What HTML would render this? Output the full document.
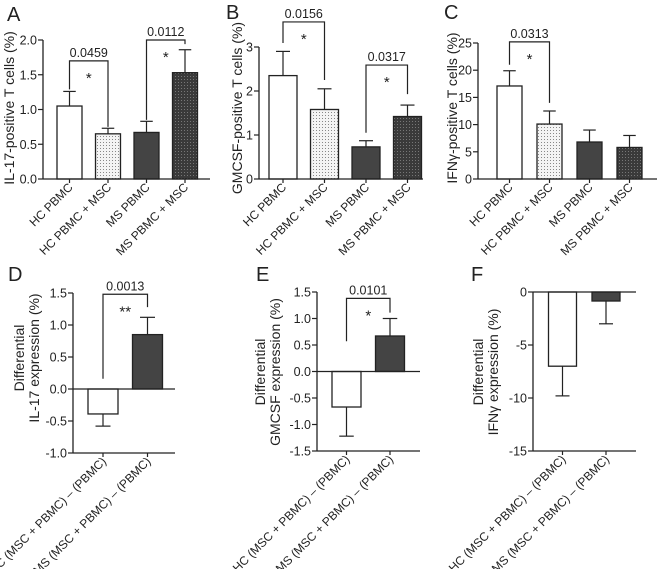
<!DOCTYPE html>
<html><head><meta charset="utf-8">
<style>
html,body{margin:0;padding:0;background:#fff;}
svg{display:block;font-family:"Liberation Sans",sans-serif;}
</style></head>
<body>
<svg id="fig" width="657" height="569" viewBox="0 0 657 569">
<defs>
<pattern id="dotLight" width="3" height="3" patternUnits="userSpaceOnUse">
<rect width="3" height="3" fill="#f4f4f4"/><rect x="1" y="1" width="1" height="1" fill="#888"/>
</pattern>
<pattern id="dotDark" width="3" height="3" patternUnits="userSpaceOnUse">
<rect width="3" height="3" fill="#3a3a3a"/><rect x="1" y="1" width="1" height="1" fill="#777"/>
</pattern>
</defs>
</svg>
<script>
// ---- data ----
const catsTop = ["HC PBMC","HC PBMC + MSC","MS PBMC","MS PBMC + MSC"];
const catsBottom = ["HC (MSC + PBMC) \u2013 (PBMC)","MS (MSC + PBMC) \u2013 (PBMC)"];
const il17Vals = [1.05, 0.65, 0.67, 1.53];
const il17Errs = [1.26, 0.73, 0.83, 1.86];
const gmcsfVals = [2.35, 1.58, 0.73, 1.42];
const gmcsfErrs = [2.9, 2.05, 0.87, 1.68];
const ifngVals = [17.1, 10.1, 6.8, 5.8];
const ifngErrs = [19.9, 12.5, 9.0, 8.0];
const dIl17Vals = [-0.39, 0.85];
const dIl17Errs = [-0.58, 1.12];
const dGmcsfVals = [-0.67, 0.67];
const dGmcsfErrs = [-1.22, 1.0];
const dIfngVals = [-7.0, -0.85];
const dIfngErrs = [-9.8, -3.0];
const ticksA = [0, 0.5, 1.0, 1.5, 2.0];
const ticksB = [0, 1, 2, 3];
const ticksC = [0, 5, 10, 15, 20, 25];
const ticksD = [-1.0, -0.5, 0.0, 0.5, 1.0, 1.5];
const ticksE = [-1.5, -1.0, -0.5, 0.0, 0.5, 1.0, 1.5];
const ticksF = [-15, -10, -5, 0];
// brackets: [leftIdx, rightIdx, label, stars, topValue, leftLegValue, rightLegValue]
const bracketsA = [[0,1,"0.0459","*",1.70,1.29,0.75],[2,3,"0.0112","*",2.0,0.85,1.94]];
const bracketsB = [[0,1,"0.0156","*",3.57,3.09,2.25],[2,3,"0.0317","*",2.59,1.05,1.93]];
const bracketsC = [[0,1,"0.0313","*",25.2,21.0,14.0]];
const bracketsD = [[0,1,"0.0013","**",1.48,0.16,1.28]];
const bracketsE = [[0,1,"0.0101","*",1.38,0.57,1.11]];
const bracketsF = [];

const NS="http://www.w3.org/2000/svg";
const svg=document.getElementById('fig');
function mk(tag,attrs,parent,text){const e=document.createElementNS(NS,tag);for(const k in attrs)e.setAttribute(k,attrs[k]);if(text!==undefined)e.textContent=text;(parent||svg).appendChild(e);return e;}
const fills4=["#ffffff","url(#dotLight)","#444444","url(#dotDark)"];
const fills2=["#ffffff","#444444"];

function panel(p){
  const g=mk('g',{});
  
  
  const y=v=>p.yBot-(v-p.dmin)/(p.dmax-p.dmin)*(p.yBot-p.yTop);
  const x=i=>p.ax+p.off+i*p.step;
  const zeroY=y(Math.min(Math.max(0,p.dmin),p.dmax));
  const L=mk('text',{x:p.lx,y:p.ly,'font-size':20,fill:'#222'},g,p.letter);
  
  
  const ya=mk('line',{x1:p.ax,y1:p.yTop,x2:p.ax,y2:p.yBot,stroke:'#222','stroke-width':1.3},g);
  
  
  p.ticks.forEach(t=>{
    const ty=y(t);
    mk('line',{x1:p.ax-5,y1:ty,x2:p.ax,y2:ty,stroke:'#222','stroke-width':1.2},g);
    const tl=mk('text',{x:p.ax-6,y:ty+4.5,'font-size':12.5,'text-anchor':'end',fill:'#222'},g,p.fmt(t));
    
    
  });
  const tt=mk('text',{transform:`translate(${p.tx},${p.ty}) rotate(-90)`,'font-size':14,'text-anchor':'middle',fill:'#222'},g);
  
  
  p.title.forEach((line,i)=>{mk('tspan',{x:0,dy:i===0?0:15},tt,line);});
  p.vals.forEach((v,i)=>{
    const cx=x(i),y0=zeroY,y1=y(v);
    const eY=y(p.errs[i]);
    const el=mk('line',{x1:cx,y1:y1,x2:cx,y2:eY,stroke:'#222','stroke-width':1.2},g);
    
    
    mk('line',{x1:cx-p.w*0.25,y1:eY,x2:cx+p.w*0.25,y2:eY,stroke:'#222','stroke-width':1.2},g);
    const r=mk('rect',{x:cx-p.w/2,y:Math.min(y0,y1),width:p.w,height:Math.abs(y1-y0),fill:p.fills[i],stroke:'#222','stroke-width':1.3},g);
    
    
    const xl=mk('text',{transform:`translate(${cx+4},${p.yBot+9}) rotate(-45)`,'font-size':12,'text-anchor':'end',fill:'#222'},g,p.cats[i]);
    
    
    mk('line',{x1:cx,y1:p.yBot,x2:cx,y2:p.yBot+4,stroke:'#222','stroke-width':1.2},g);
  });
  const xa=mk('line',{x1:p.ax,y1:zeroY,x2:p.xEnd,y2:zeroY,stroke:'#222','stroke-width':1.3},g);
  
  
  if(zeroY!==p.yBot) mk('line',{x1:p.ax,y1:p.yBot,x2:p.xEnd,y2:p.yBot,stroke:'#222','stroke-width':1.3},g);
  p.brackets.forEach(b=>{
    const xl=x(b[0]),xr=x(b[1]),top=y(b[4]);
    const br=mk('path',{d:`M${xl},${y(b[5])}V${top}H${xr}V${y(b[6])}`,fill:'none',stroke:'#222','stroke-width':1.2},g);
    
    
    const pl=mk('text',{x:(xl+xr)/2,y:top-4,'font-size':12.5,'text-anchor':'middle',fill:'#222'},g,b[2]);
    
    
    const st=mk('text',{x:(xl+xr)/2,y:top+22,'font-size':15,'text-anchor':'middle',fill:'#222'},g,b[3]);
    
    
  });
}
const f1=t=>t.toFixed(1), f0=t=>String(t);
panel({name:'panel-a-il17',letter:'A',lx:7,ly:21,ax:43,xEnd:210,yTop:40,yBot:179,dmin:0,dmax:2,ticks:ticksA,fmt:f1,off:26.5,step:38.5,w:25,vals:il17Vals,errs:il17Errs,cats:catsTop,fills:fills4,brackets:bracketsA,title:["IL-17-positive T cells (%)"],tx:14,ty:108});
panel({name:'panel-b-gmcsf',letter:'B',lx:226,ly:19,ax:259,xEnd:423,yTop:47,yBot:179,dmin:0,dmax:3,ticks:ticksB,fmt:f0,off:24,step:41.5,w:28,vals:gmcsfVals,errs:gmcsfErrs,cats:catsTop,fills:fills4,brackets:bracketsB,title:["GMCSF-positive T cells (%)"],tx:242,ty:108});
panel({name:'panel-c-ifng',letter:'C',lx:444,ly:19,ax:478,xEnd:657,yTop:43,yBot:179,dmin:0,dmax:25,ticks:ticksC,fmt:f0,off:31.5,step:40,w:25,vals:ifngVals,errs:ifngErrs,cats:catsTop,fills:fills4,brackets:bracketsC,title:["IFN\u03b3-positive T cells (%)"],tx:457,ty:108});
panel({name:'panel-d-diff-il17',letter:'D',lx:8,ly:281,ax:73,xEnd:175,yTop:293,yBot:453,dmin:-1,dmax:1.5,ticks:ticksD,fmt:f1,off:30,step:44.5,w:30,vals:dIl17Vals,errs:dIl17Errs,cats:catsBottom,fills:fills2,brackets:bracketsD,title:["Differential","IL-17 expression (%)"],tx:24,ty:358});
panel({name:'panel-e-diff-gmcsf',letter:'E',lx:256,ly:281,ax:317,xEnd:420,yTop:292,yBot:451,dmin:-1.5,dmax:1.5,ticks:ticksE,fmt:f1,off:29.5,step:43.5,w:29,vals:dGmcsfVals,errs:dGmcsfErrs,cats:catsBottom,fills:fills2,brackets:bracketsE,title:["Differential","GMCSF expression (%)"],tx:265,ty:372});
panel({name:'panel-f-diff-ifng',letter:'F',lx:471,ly:281,ax:533,xEnd:636,yTop:292,yBot:451,dmin:-15,dmax:0,ticks:ticksF,fmt:f0,off:29.5,step:43.5,w:28,vals:dIfngVals,errs:dIfngErrs,cats:catsBottom,fills:fills2,brackets:bracketsF,title:["Differential","IFN\u03b3 expression (%)"],tx:483,ty:372});
</script>
</body></html>
